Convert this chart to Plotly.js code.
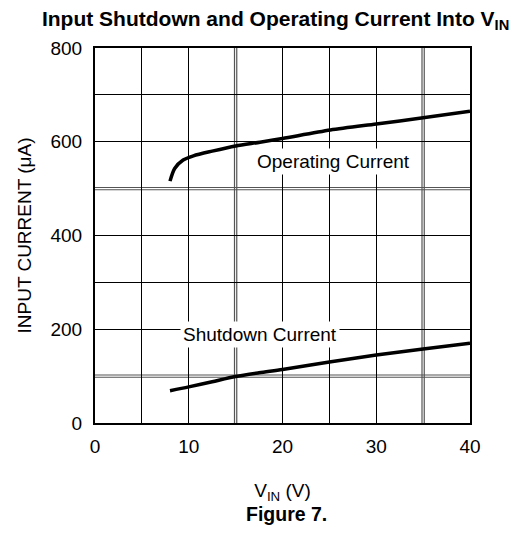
<!DOCTYPE html>
<html><head><meta charset="utf-8">
<script src="https://cdn.plot.ly/plotly-3.0.1.min.js"></script>
<style>html,body{margin:0;padding:0;background:#fff}</style>
</head><body>
<div id="chart" style="width:520px;height:539px"></div>
<script>
// Operating current vs VIN
var opV = [8.0, 8.5, 9.4, 10.5, 12.5, 15.0, 17.6, 20.0, 25.1, 30.0, 35.0, 40.0];
var opI = [516, 543, 561, 570, 580, 591, 599, 607, 625, 638, 651, 665];
// Shutdown current vs VIN
var sdV = [8.0, 10.0, 12.5, 15.0, 17.5, 20.0, 25.0, 30.0, 35.0, 40.0];
var sdI = [69, 77, 88, 99, 107, 114, 130, 145, 158, 170];
var xTicks = [0, 10, 20, 30, 40];
var yTicks = [0, 200, 400, 600, 800];
var xMinorGrid = [5, 25];
var yMinorGrid = [300, 700];
var doubleX = [15, 35];
var doubleY = [100, 500];

var font = "Liberation Sans, Arial, sans-serif";
var shapes = [];
doubleX.forEach(function(v){
  [-0.12, 0.12].forEach(function(d){
    shapes.push({type:'line', xref:'x', yref:'paper', x0:v+d, x1:v+d, y0:0, y1:1, line:{color:'#555', width:1.2}, layer:'between'});
  });
});
doubleY.forEach(function(v){
  [-2.4, 2.4].forEach(function(d){
    shapes.push({type:'line', xref:'paper', yref:'y', x0:0, x1:1, y0:v+d, y1:v+d, line:{color:'#555', width:1.2}, layer:'between'});
  });
});

var data = [
  {x: opV, y: opI, mode:'lines', line:{color:'#000', width:3.5, shape:'spline', smoothing:0.8}, name:'Operating Current', hoverinfo:'x+y'},
  {x: sdV, y: sdI, mode:'lines', line:{color:'#000', width:3.5, shape:'spline', smoothing:0.8}, name:'Shutdown Current', hoverinfo:'x+y'}
];

var layout = {
  width:520, height:539,
  margin:{l:95, r:50, t:48, b:116},
  paper_bgcolor:'#fff', plot_bgcolor:'#fff',
  showlegend:false,
  font:{family:font, color:'#000', size:19},
  title:{text:'<b>Input Shutdown and Operating Current Into V<sub>IN</sub></b>', x:0.53, xanchor:'center', y:0.966, yanchor:'middle', font:{family:font, size:21, color:'#000'}},
  xaxis:{range:[0,40], tickvals:xTicks, ticktext:xTicks.map(String), ticks:'', showgrid:true, gridcolor:'#000', gridwidth:1,
    minor:{tickvals:xMinorGrid, showgrid:true, gridcolor:'#000', gridwidth:1, ticks:''},
    showline:true, linecolor:'#000', linewidth:2, mirror:true, zeroline:false, ticklabelstandoff:5,
    tickfont:{family:font, size:19, color:'#000'},
    title:{text:'V<sub>IN</sub> (V)', standoff:28, font:{family:font, size:19, color:'#000'}}, fixedrange:true},
  yaxis:{range:[0,800], tickvals:yTicks, ticktext:yTicks.map(String), ticks:'', showgrid:true, gridcolor:'#000', gridwidth:1,
    minor:{tickvals:yMinorGrid, showgrid:true, gridcolor:'#000', gridwidth:1, ticks:''},
    showline:true, linecolor:'#000', linewidth:2, mirror:true, zeroline:false, ticklabelstandoff:7,
    tickfont:{family:font, size:19, color:'#000'},
    title:{text:'INPUT CURRENT (μA)', standoff:14, font:{family:font, size:19, color:'#000'}}, fixedrange:true},
  shapes: shapes,
  annotations:[
    {x:25.4, y:557, xref:'x', yref:'y', text:'Operating Current', showarrow:false, bgcolor:'#fff', borderpad:2, font:{family:font, size:19, color:'#000'}},
    {x:17.65, y:188, xref:'x', yref:'y', text:'Shutdown Current', showarrow:false, bgcolor:'#fff', borderpad:2, font:{family:font, size:19, color:'#000'}},
    {x:0.51, y:-0.242, xref:'paper', yref:'paper', text:'<b>Figure 7.</b>', showarrow:false, yanchor:'middle', font:{family:font, size:19.5, color:'#000'}}
  ]
};
Plotly.newPlot('chart', data, layout, {displayModeBar:false, staticPlot:true});
</script>
</body></html>
